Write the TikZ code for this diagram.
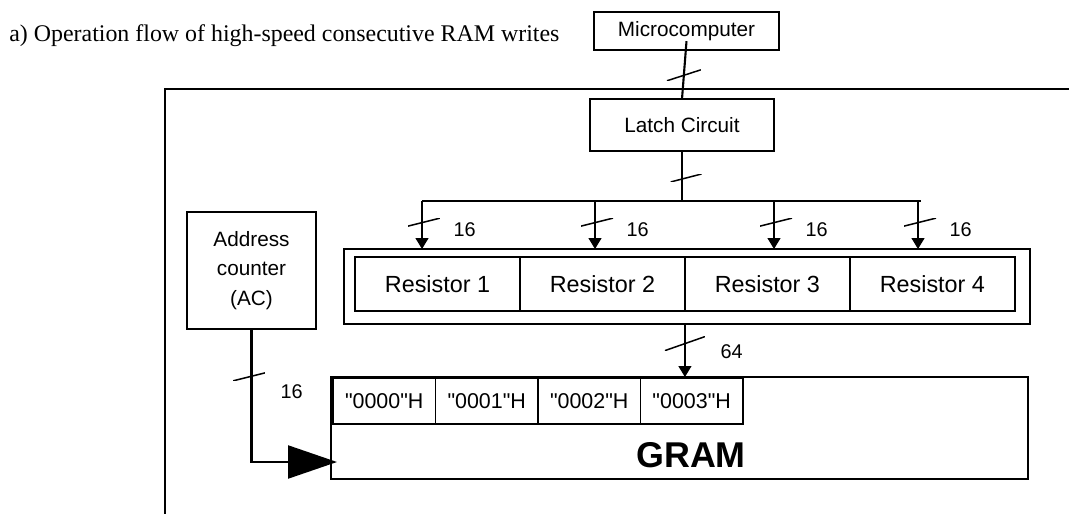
\documentclass[tikz,border=0pt]{standalone}
\usepackage{fontspec}
\setmainfont{Liberation Serif}
\setsansfont{Liberation Sans}
\newfontfamily\hexfont{Liberation Sans}[Ligatures=TeXOff]
\usetikzlibrary{positioning, arrows.meta}
\tikzset{
  every node/.style={font=\sffamily},
  box/.style={
    rectangle, draw, line width=0.85pt, inner sep=0pt, outer sep=0pt,
    align=center, font=\sffamily\fontsize{11.8}{17}\selectfont
  },
  regcell/.style={
    box, minimum width=3.3cm, minimum height=1.08cm,
    font=\sffamily\fontsize{13.3}{16}\selectfont
  },
  addrcell/.style={
    box, minimum width=2.05cm, minimum height=0.92cm,
    font=\hexfont\fontsize{12.2}{14}\selectfont
  },
  frameline/.style={line width=1.1pt},
  busline/.style={line width=1.2pt},
  wire/.style={line width=0.75pt},
  wirearrow/.style={wire, -{Triangle[length=0.22cm, width=0.26cm]}},
  bigarrow/.style={line width=1.3pt, -{Triangle[length=0.98cm, width=0.66cm]}},
  slashmark/.style 2 args={
    rectangle, minimum width=#1, minimum height=#2, inner sep=0pt, outer sep=0pt,
    path picture={\draw[-, line width=0.85pt]
      (path picture bounding box.south west) -- (path picture bounding box.north east);}
  },
  widthlabel/.style={font=\sffamily\fontsize{11.3}{13}\selectfont, inner sep=0pt}
}

\begin{document}
\begin{tikzpicture}[x=0.02cm, y=-0.02cm]
\useasboundingbox (0,0) rectangle (1069,514);

% Title
\node[anchor=base west, inner sep=0pt, font=\rmfamily\fontsize{13.6}{16}\selectfont]
  (title) at (9,41) {a) Operation flow of high-speed consecutive RAM writes};

% Chip outline
\draw[frameline] (165,530) |- (1080,89);

% Microcomputer and latch
\node[box, minimum width=3.7cm, minimum height=0.76cm] (mc) at (686.5,31) {Microcomputer};
\node[box, minimum width=3.68cm, minimum height=1.04cm] (latch) at (682,125) {Latch Circuit};

% Address counter
\node[box, minimum width=2.58cm, minimum height=2.34cm] (ac) at (251.5,270.5)
  {Address\\counter\\(AC)};

% Resistors
\node[box, minimum width=13.72cm, minimum height=1.5cm] (regs) at (687,286.5) {};
\node[regcell, anchor=west] (r1) at (355,284) {Resistor 1};
\node[regcell, right=0pt of r1] (r2) {Resistor 2};
\node[regcell, right=0pt of r2] (r3) {Resistor 3};
\node[regcell, right=0pt of r3] (r4) {Resistor 4};

% GRAM
\node[box, anchor=north west, minimum width=13.94cm, minimum height=2.04cm] (gram) at (331,377) {};
\node[addrcell, anchor=north west] (a0) at (333,378) {"0000"H};
\node[addrcell, right=0pt of a0] (a1) {"0001"H};
\node[addrcell, right=0pt of a1] (a2) {"0002"H};
\node[addrcell, right=0pt of a2] (a3) {"0003"H};
\node[inner sep=0pt, font=\sffamily\bfseries\fontsize{20.4}{24}\selectfont] (gramlabel) at (691,455) {GRAM};

% Bus
\coordinate (busL) at (422,201);
\coordinate (busR) at (921,201);
\coordinate (d1) at (422,201);
\coordinate (d2) at (595,201);
\coordinate (d3) at (774,201);
\coordinate (d4) at (918,201);
\coordinate (acin) at (337,462);

% Edges
\draw[busline] ([yshift=5pt] mc.south) --
  node[pos=0.59, slashmark={0.68cm}{0.22cm}] {} (latch.north);
\draw[wire] (latch.south) --
  node[pos=0.54, xshift=0.08cm, slashmark={0.62cm}{0.16cm}] {} (latch.south |- busL);
\draw[busline] (busL) -- (busR);
\foreach \d in {d1,d2,d3,d4}
  \draw[wirearrow] (\d) --
    node[pos=0.44, xshift=0.04cm, slashmark={0.64cm}{0.16cm}] {}
    node[widthlabel, pos=0.6, right=0.62cm] {16}
    (\d |- regs.north);

\draw[wirearrow] (r2.east |- regs.south) --
  node[pos=0.37, slashmark={0.8cm}{0.28cm}] {}
  node[widthlabel, pos=0.52, right=0.7cm] {64}
  (r2.east |- gram.north);

\draw[bigarrow] (ac.south) --
  node[pos=0.36, xshift=-0.05cm, slashmark={0.64cm}{0.16cm}] {}
  node[widthlabel, pos=0.47, right=0.56cm] {16}
  (ac.south |- acin) -- (acin);

\end{tikzpicture}
\end{document}
